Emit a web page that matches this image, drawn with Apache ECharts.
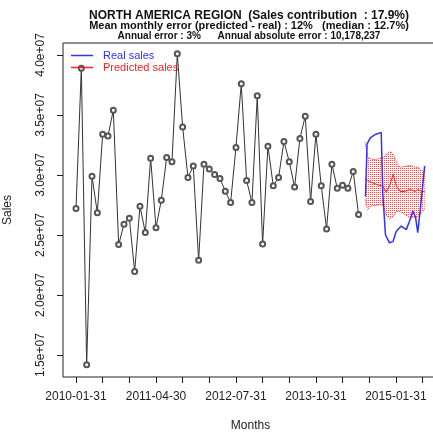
<!DOCTYPE html>
<html>
<head>
<meta charset="utf-8">
<script src="https://cdn.jsdelivr.net/npm/echarts@6/dist/echarts.min.js"></script>
<style>
    html, body { margin: 0; padding: 0; background: #fff; }
    #chart { width: 433px; height: 432px; }
</style>
</head>
<body>
<div id="chart"></div>
<script>
    // monthly sales in millions, month index 0 = 2010-01-31
    let salesValues = [
        27.2, 38.9, 14.2, 29.9, 26.85, 33.4, 33.25, 35.4, 24.2, 25.9,
        26.4, 21.96, 27.4, 25.2, 31.4, 25.6, 27.9, 31.45, 31.1, 40.1,
        34.0, 29.8, 30.75, 22.9, 30.9, 30.5, 30.05, 29.7, 28.65, 27.7,
        32.3, 37.6, 29.55, 27.7, 36.6, 24.25, 32.4, 29.1, 29.8, 32.8,
        31.1, 29.0, 33.05, 34.9, 27.8, 33.4, 29.1, 25.5, 30.9, 28.9,
        29.15, 28.9, 30.3, 26.7
    ]

    // real sales over the forecast period (month index, millions)
    let realX = [54.3, 54.6, 55.2, 56.0, 57.25, 57.55, 58.05, 58.8, 59.45, 60.05,
        61.0, 61.95, 62.55, 63.2, 63.7, 64.1, 64.55, 65.05, 65.4]
    let realValues = [28.2, 32.6, 33.1, 33.35, 33.55, 28.4, 25.0, 24.35, 24.45, 25.3,
        25.75, 25.45, 26.15, 27.0, 26.45, 25.2, 27.0, 29.2, 30.75]

    // predicted sales and its band (month index, millions)
    let predX = [54.2, 54.7, 55.4, 56.4, 57.0, 57.6, 58.2, 58.9, 59.5, 60.1,
        60.8, 61.7, 62.6, 63.6, 64.2, 64.8, 65.4]
    let predValues = [29.63, 29.55, 29.38, 29.21, 29.13, 29.05, 28.55, 29.21, 30.05, 29.05,
        28.63, 28.63, 28.8, 28.63, 28.8, 28.63, 28.63]
    let predUpper = [32.73, 31.56, 31.3, 31.3, 31.39, 31.47, 31.72, 31.97, 31.72, 31.05,
        30.64, 30.72, 30.8, 30.64, 30.64, 30.38, 30.3]
    let predLower = [27.96, 27.12, 27.46, 27.46, 27.54, 27.46, 26.62, 26.37, 26.54, 26.96,
        26.96, 26.71, 26.45, 26.45, 26.54, 26.87, 27.12]

    let xTickValues = [0, 5, 10, 15, 20, 25, 30, 35, 40, 45, 50, 55, 60, 65]
    let xLabelValues = [0, 15, 30, 45, 60]
    let xLabels = ['2010-01-31', '2011-04-30', '2012-07-31', '2013-10-31', '2015-01-31']
    let yTickValues = [15, 20, 25, 30, 35, 40]

    // dotted red fill for the prediction band
    let dots = document.createElement('canvas')
    dots.width = 2
    dots.height = 2
    let dctx = dots.getContext('2d')
    dctx.fillStyle = 'rgba(255,0,0,0.7)'
    dctx.fillRect(0, 0, 1, 1)

    let pair = (xs, ys) => xs.map((x, i) => [x, ys[i]])
    let font = 'Liberation Sans, Arial, sans-serif'

    let option = {
        animation: false,
        backgroundColor: '#fff',
        title: [{
            text: 'NORTH AMERICA REGION  (Sales contribution  : 17.9%)',
            left: 249, top: 10, padding: 0, textAlign: 'center',
            textStyle: {fontFamily: font, fontSize: 12, fontWeight: 'bold', color: '#111'}
        }, {
            text: 'Mean monthly error (predicted - real) : 12%   (median : 12.7%)',
            left: 249, top: 20, padding: 0, textAlign: 'center',
            textStyle: {fontFamily: font, fontSize: 11, fontWeight: 'bold', color: '#111'}
        }, {
            text: 'Annual error : 3%      Annual absolute error : 10,178,237',
            left: 249, top: 31, padding: 0, textAlign: 'center',
            textStyle: {fontFamily: font, fontSize: 10, fontWeight: 'bold', color: '#111'}
        }],
        legend: {
            orient: 'vertical',
            left: 71, top: 50, padding: 0, itemGap: 1,
            itemWidth: 22, itemHeight: 1.5, icon: 'rect',
            textStyle: {fontFamily: font, fontSize: 11, padding: [0, 0, 0, 5]},
            data: [
                {name: 'Real sales', textStyle: {color: '#3030ff'}},
                {name: 'Predicted sales', textStyle: {color: '#ff2020'}}
            ]
        },
        grid: {
            left: 63, top: 43, width: 375, height: 334,
            outerBoundsMode: 'none', containLabel: false,
            show: true, borderColor: '#222', borderWidth: 1
        },
        xAxis: {
            type: 'value',
            min: -2.44, max: 67.9,
            name: 'Months', nameLocation: 'middle', nameGap: 43,
            nameTextStyle: {fontFamily: font, fontSize: 12, color: '#222'},
            axisLine: {show: false, onZero: false},
            splitLine: {show: false},
            axisTick: {show: true, inside: false, length: 6, customValues: xTickValues, lineStyle: {color: '#222'}},
            axisLabel: {
                customValues: xLabelValues, margin: 14,
                fontFamily: font, fontSize: 12, color: '#222',
                formatter: v => xLabels[xLabelValues.indexOf(v)]
            }
        },
        yAxis: {
            type: 'value',
            min: 13.17, max: 41.0,
            name: 'Sales', nameLocation: 'middle', nameGap: 49,
            nameTextStyle: {fontFamily: font, fontSize: 12, color: '#222'},
            axisLine: {show: false, onZero: false},
            splitLine: {show: false},
            axisTick: {show: true, inside: false, length: 6, customValues: yTickValues, lineStyle: {color: '#222'}},
            axisLabel: {
                customValues: yTickValues, margin: 16, rotate: 90,
                fontFamily: font, fontSize: 12, color: '#222',
                formatter: v => (v / 10).toFixed(1) + 'e+07'
            }
        },
        series: [
            {
                name: 'Sales',
                type: 'line',
                data: salesValues.map((v, i) => [i, v]),
                symbol: 'emptyCircle',
                symbolSize: 5,
                itemStyle: {color: '#555', borderWidth: 0.9},
                lineStyle: {color: '#333', width: 1}
            },
            {
                name: 'band',
                type: 'custom',
                data: predX.map((x, i) => [x, predLower[i], predUpper[i]]),
                encode: {x: 0, y: [1, 2]},
                renderItem: (params, api) => {
                    if (params.dataIndex !== 0) return
                    let pts = []
                    for (let i = 0; i < predX.length; i++) pts.push(api.coord([predX[i], predUpper[i]]))
                    for (let i = predX.length - 1; i >= 0; i--) pts.push(api.coord([predX[i], predLower[i]]))
                    return {
                        type: 'polygon',
                        shape: {points: pts},
                        style: {fill: {image: dots, repeat: 'repeat'}, stroke: null}
                    }
                },
                z: 1
            },
            {
                name: 'upper',
                type: 'line',
                data: pair(predX, predUpper),
                symbol: 'none',
                lineStyle: {color: '#ff3030', width: 1, type: 'dotted'}
            },
            {
                name: 'lower',
                type: 'line',
                data: pair(predX, predLower),
                symbol: 'none',
                lineStyle: {color: '#ff3030', width: 1, type: 'dotted'}
            },
            {
                name: 'Predicted sales',
                type: 'line',
                data: pair(predX, predValues),
                symbol: 'none',
                itemStyle: {color: '#ff2020'},
                lineStyle: {color: '#ff2020', width: 1}
            },
            {
                name: 'Real sales',
                type: 'line',
                data: pair(realX, realValues),
                symbol: 'none',
                itemStyle: {color: '#3030ff'},
                lineStyle: {color: '#3030ff', width: 1.5},
                z: 3
            }
        ]
    }

    let myChart = echarts.init(document.getElementById('chart'))
    myChart.setOption(option)
</script>
</body>
</html>
